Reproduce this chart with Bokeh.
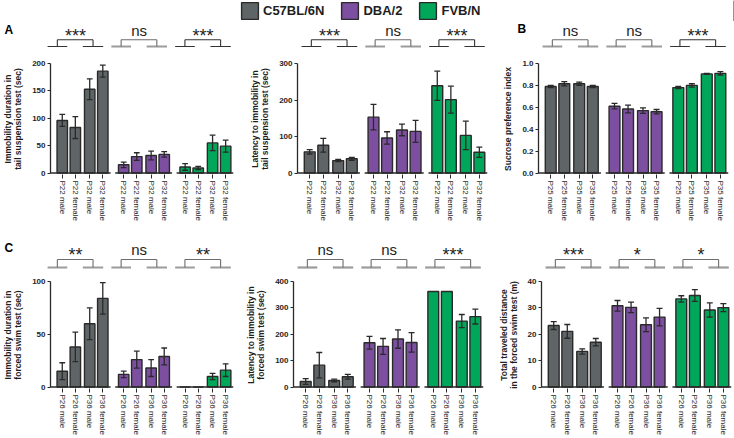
from bokeh.plotting import figure
from bokeh.layouts import column, row
from bokeh.models import (Range1d, FixedTicker, ColumnDataSource, Legend, LegendItem,
                          Label, PrintfTickFormatter)
from bokeh.embed import file_html
from bokeh.resources import INLINE

FONT = "Liberation Sans"
EDGE = "#2a2a2a"
TXT = "#1e1e1e"

# ---------------- data ----------------
strains = ["C57BL/6N", "DBA/2", "FVB/N"]
strain_colors = ["#5f6566", "#7d4fa0", "#00a65a"]

tst_labels = ["P22 male", "P22 female", "P32 male", "P32 female"]
sp_labels = ["P25 male", "P25 female", "P35 male", "P35 female"]
fst_labels = ["P26 male", "P26 female", "P36 male", "P36 female"]

tst_imm_mean = [[96, 83, 153, 186], [15, 30, 32, 34], [11, 9, 55, 49]]
tst_imm_err = [[11, 20, 19, 11], [5, 7, 8, 5], [6, 3, 14, 11]]
tst_imm_sig = ["***", "ns", "***"]

tst_lat_mean = [[58, 76, 34, 39], [153, 96, 118, 114], [239, 201, 103, 57]]
tst_lat_err = [[6, 19, 3, 4], [35, 17, 16, 30], [40, 37, 39, 14]]
tst_lat_sig = ["***", "ns", "***"]

sp_mean = [[0.79, 0.815, 0.815, 0.79], [0.61, 0.585, 0.57, 0.56], [0.78, 0.80, 0.905, 0.91]]
sp_err = [[0.01, 0.02, 0.015, 0.01], [0.025, 0.035, 0.025, 0.02], [0.01, 0.015, 0.005, 0.015]]
sp_sig = ["ns", "ns", "***"]

fst_imm_mean = [[15, 38, 60, 84], [12, 26, 18, 29], [0, 0, 10, 16]]
fst_imm_err = [[8, 14, 15, 15], [3, 8, 8, 8], [0, 0, 3, 6]]
fst_imm_sig = ["**", "ns", "**"]

fst_lat_mean = [[21, 83, 25, 39], [168, 154, 182, 169], [362, 362, 250, 267]]
fst_lat_err = [[11, 48, 5, 9], [24, 30, 35, 37], [0, 0, 25, 28]]
fst_lat_sig = ["ns", "ns", "***"]

fst_dist_mean = [[23.3, 21.1, 13.5, 17.0], [30.8, 30.2, 23.6, 26.5], [33.4, 34.7, 29.2, 30.1]]
fst_dist_err = [[1.5, 2.6, 1.0, 1.4], [2.0, 2.0, 2.6, 3.3], [1.2, 2.2, 2.7, 1.5]]
fst_dist_sig = ["***", "*", "*"]

# ---------------- layout constants ----------------
IN_GROUP = [0, 10, 21, 31]
GROUP_OFF = [0, 47, 94]
X_START, X_END = -9, 131
FRAME_W = 190
SCALE = FRAME_W / (X_END - X_START)   # px per x unit
ZERO_PX = 1.5
CAP = 2.2


def positions(g):
    return [GROUP_OFF[g] + w for w in IN_GROUP]


def make_panel(labels, means, errs, ymax, ticks, ylabel, left, right, top_b, frame_h, bottom, fmt=None):
    k = ymax / (frame_h - ZERO_PX)
    p = figure(width=left + FRAME_W + right, height=top_b + frame_h + bottom, title=None,
               x_range=Range1d(X_START, X_END), y_range=Range1d(-ZERO_PX * k, ymax),
               min_border_left=left, min_border_right=right, min_border_top=top_b,
               min_border_bottom=bottom, output_backend="svg", toolbar_location=None)
    p.grid.visible = False
    p.outline_line_color = None
    all_x, overrides = [], {}
    for g in range(3):
        xs = positions(g)
        src = ColumnDataSource(dict(x=xs, top=means[g]))
        p.vbar(x="x", top="top", bottom=0, width=8, source=src,
               fill_color=strain_colors[g], line_color=EDGE, line_width=1.4)
        keep = [i for i, e in enumerate(errs[g]) if e > 0]
        base = [xs[i] for i in keep]
        lo = [means[g][i] - errs[g][i] for i in keep]
        hi = [means[g][i] + errs[g][i] for i in keep]
        esrc = ColumnDataSource(dict(b=base, bl=[b - CAP for b in base], br=[b + CAP for b in base],
                                     lo=lo, hi=hi))
        p.segment(x0="b", y0="lo", x1="b", y1="hi", source=esrc, line_color=EDGE, line_width=1.3)
        p.segment(x0="bl", y0="hi", x1="br", y1="hi", source=esrc, line_color=EDGE, line_width=1.3)
        p.segment(x0="bl", y0="lo", x1="br", y1="lo", source=esrc, line_color=EDGE, line_width=1.3)
        x0 = X_START if g == 0 else GROUP_OFF[g] - 6.5
        p.segment(x0=[x0], y0=[0], x1=[GROUP_OFF[g] + 37], y1=[0], line_color=EDGE, line_width=1.6)
        for x, lab in zip(xs, labels):
            all_x.append(x)
            overrides[x] = lab
    xa = p.xaxis[0]
    xa.ticker = FixedTicker(ticks=all_x)
    xa.major_label_overrides = overrides
    xa.major_label_orientation = "vertical"
    xa.axis_line_color = None
    xa.major_tick_out = 4
    xa.major_tick_in = 0
    xa.major_tick_line_color = EDGE
    xa.minor_tick_line_color = None
    xa.major_label_standoff = 2
    xa.major_label_text_font = FONT
    xa.major_label_text_font_size = "8px"
    xa.major_label_text_color = TXT

    ya = p.yaxis[0]
    ya.ticker = FixedTicker(ticks=ticks)
    ya.bounds = (0, ymax)
    if fmt:
        ya.formatter = PrintfTickFormatter(format=fmt)
    ya.axis_line_color = EDGE
    ya.axis_line_width = 1.3
    ya.major_tick_out = 3
    ya.major_tick_in = 0
    ya.major_tick_line_color = EDGE
    ya.minor_tick_line_color = None
    ya.major_label_standoff = 2
    ya.major_label_text_font = FONT
    ya.major_label_text_font_size = "8px"
    ya.major_label_text_font_style = "bold"
    ya.major_label_text_color = TXT
    ya.axis_label = ylabel
    ya.axis_label_text_font = FONT
    ya.axis_label_text_font_size = "8.5px"
    ya.axis_label_text_font_style = "bold"
    ya.axis_label_text_color = TXT
    ya.axis_label_standoff = 6
    ya.axis_label_text_line_height = 1.0
    return p


def make_bracket(sigs, styles, left, right, height, y_ns, y_star, y_top, y_h,
                 letter=None, letter_px=0, letter_y=0):
    x0r = X_START - left / SCALE
    x1r = X_END + right / SCALE
    b = figure(width=left + FRAME_W + right, height=height, title=None, x_range=Range1d(x0r, x1r),
               y_range=Range1d(0, height), x_axis_type=None, y_axis_type=None,
               min_border=0, output_backend="svg", toolbar_location=None)
    b.grid.visible = False
    b.outline_line_color = None
    for g in range(3):
        off = GROUP_OFF[g]
        if styles[g] == "dark":
            hc, hw, vc, vw = "#333333", 1.1, "#333333", 1.1
        else:
            hc, hw, vc, vw = "#9c9c9c", 2.2, "#6c6c6c", 1.1
        b.segment(x0=[off - 6, off + 20], y0=[y_h, y_h], x1=[off + 8.5, off + 35], y1=[y_h, y_h],
                  line_color=hc, line_width=hw)
        b.segment(x0=[off + 1.2, off + 27.5, off + 1.2], y0=[y_h, y_h, y_top],
                  x1=[off + 1.2, off + 27.5, off + 27.5], y1=[y_top, y_top, y_top],
                  line_color=vc, line_width=vw)
        s = sigs[g]
        if s == "ns":
            b.add_layout(Label(x=off + 14.5, y=y_ns, text=s, text_align="center",
                               text_baseline="bottom", text_font=FONT, text_font_size="15px",
                               text_color=TXT))
        else:
            b.add_layout(Label(x=off + 14.5, y=y_star, text=s, text_align="center",
                               text_baseline="bottom", text_font=FONT, text_font_size="18px",
                               text_color=TXT))
    if letter:
        b.add_layout(Label(x=x0r + letter_px / SCALE, y=letter_y, text=letter, text_font=FONT,
                           text_baseline="bottom", text_font_size="12px", text_font_style="bold",
                           text_color="#000000"))
    return b


# ---------------- legend ----------------
leg = figure(width=734, height=21, title=None, x_range=Range1d(0, 1), y_range=Range1d(0, 1),
             x_axis_type=None, y_axis_type=None, min_border=0,
             output_backend="svg", toolbar_location=None)
leg.grid.visible = False
leg.outline_line_color = None
items = []
for name, c in zip(strains, strain_colors):
    r = leg.vbar(x=[5], top=[1], width=0.5, fill_color=c, line_color=EDGE, line_width=1.4)
    items.append(LegendItem(label=name, renderers=[r]))
legend = Legend(items=items, location=(239, 0), orientation="horizontal",
                glyph_width=21, glyph_height=21, label_height=21, label_standoff=3, spacing=15,
                padding=0, margin=0, border_line_color=None, background_fill_alpha=0,
                label_text_font=FONT, label_text_font_size="13px", label_text_font_style="bold",
                label_text_color=TXT)
leg.add_layout(legend)

# ---------------- panels ----------------
TOP_H, BOT_H = 111, 110
A1 = make_panel(tst_labels, tst_imm_mean, tst_imm_err, 200, [0, 50, 100, 150, 200],
                "Immobility duration in\ntail suspension test (sec)", 43, 5, 5, TOP_H, 64)
A2 = make_panel(tst_labels, tst_lat_mean, tst_lat_err, 300, [0, 100, 200, 300],
                "Latency to immobility in\ntail suspension test (sec)", 59, 5, 5, TOP_H, 64)
B = make_panel(sp_labels, sp_mean, sp_err, 1.0, [0, 0.2, 0.4, 0.6, 0.8, 1.0],
               "Sucrose preference index", 46, 6, 5, TOP_H, 64, fmt="%.1f")
C1 = make_panel(fst_labels, fst_imm_mean, fst_imm_err, 100, [0, 50, 100],
                "Immobility duration in\nforced swim test (sec)", 43, 5, 5, BOT_H, 46)
C2 = make_panel(fst_labels, fst_lat_mean, fst_lat_err, 400, [0, 100, 200, 300, 400],
                "Latency to immobility in\nforced swim test (sec)", 55, 7, 5, BOT_H, 46)
C3 = make_panel(fst_labels, fst_dist_mean, fst_dist_err, 40, [0, 10, 20, 30, 40],
                "Total traveled distance\nin the forced swim test (m)", 51, 3, 5, BOT_H, 46)

bA1 = make_bracket(tst_imm_sig, ["dark", "gray", "dark"], 43, 5, 37, 19.8, 12.9, 18.7, 12, "A", 4, 21.5)
bA2 = make_bracket(tst_lat_sig, ["dark", "gray", "dark"], 59, 5, 37, 19.8, 12.9, 18.7, 12)
bB = make_bracket(sp_sig, ["gray", "gray", "dark"], 46, 6, 37, 19.8, 12.9, 18.7, 12, "B", 25, 22.5)
bC1 = make_bracket(fst_imm_sig, ["gray", "gray", "gray"], 43, 5, 38, 18.8, 11.4, 17, 9, "C", 4, 21.5)
bC2 = make_bracket(fst_lat_sig, ["gray", "gray", "gray"], 55, 7, 38, 18.8, 11.4, 17, 9)
bC3 = make_bracket(fst_dist_sig, ["gray", "gray", "gray"], 51, 3, 38, 18.8, 11.4, 17, 9)

layout = column(leg, row(bA1, bA2, bB), row(A1, A2, B), row(bC1, bC2, bC3), row(C1, C2, C3))

open("out.html", "w").write(file_html(layout, INLINE))
